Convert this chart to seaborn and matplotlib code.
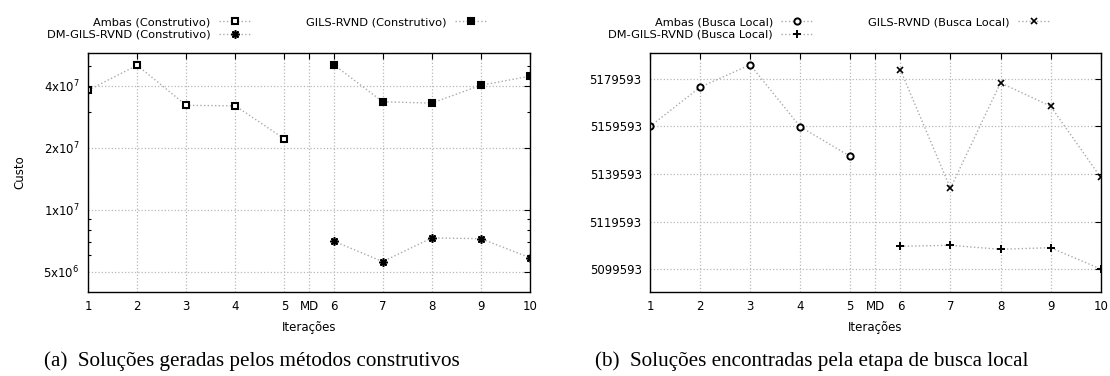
import matplotlib
matplotlib.use('Agg')
import matplotlib.pyplot as plt
import matplotlib.ticker as mticker
import seaborn as sns
import pandas as pd

# iteracoes (MD = mineracao de dados, entre 5 e 6)
it_antes = [1, 2, 3, 4, 5]
it_depois = [6, 7, 8, 9, 10]
xtick_pos = [1, 2, 3, 4, 5, 5.5, 6, 7, 8, 9, 10]
xtick_labels = ['1', '2', '3', '4', '5', 'MD', '6', '7', '8', '9', '10']

# (a) construtivo
ambas_constr = [3.81e7, 5.04e7, 3.22e7, 3.20e7, 2.21e7]
gils_constr = [5.08e7, 3.35e7, 3.30e7, 4.03e7, 4.46e7]
dm_constr = [7.05e6, 5.6e6, 7.3e6, 7.24e6, 5.85e6]
yticks_a = [5e6, 1e7, 2e7, 4e7]
ylabels_a = ['5x10$^{6}$', '1x10$^{7}$', '2x10$^{7}$', '4x10$^{7}$']
yminor_a = [6e6, 7e6, 8e6, 9e6, 3e7, 5e7]

# (b) busca local
ambas_bl = [5159593, 5176056, 5185488, 5159450, 5146961]
gils_bl = [5183383, 5133572, 5177909, 5168056, 5138200]
dm_bl = [5109235, 5109656, 5107972, 5108646, 5099700]
yticks_b = [5099593, 5119593, 5139593, 5159593, 5179593]

sns.set_theme(style='white', rc={'text.color': 'black', 'axes.labelcolor': 'black',
                                 'xtick.color': 'black', 'ytick.color': 'black'})
plt.rcParams['font.family'] = ['DejaVu Sans']

fig = plt.figure(figsize=(11.1, 3.76), dpi=100)
ax1 = fig.add_axes([0.0793, 0.2242, 0.3982, 0.6356])
ax2 = fig.add_axes([0.5856, 0.2242, 0.4060, 0.6356])

line_kw = dict(color='#aaaaaa', linestyle=':', linewidth=1.0, markeredgecolor='black')

def serie(ax, x, y, label, marker, ms, mfc='none', mew=1.4):
    df = pd.DataFrame({'x': x, 'y': y})
    sns.lineplot(data=df, x='x', y='y', ax=ax, label=label, marker=marker,
                 markersize=ms, markerfacecolor=mfc, markeredgewidth=mew, **line_kw)

serie(ax1, it_antes, ambas_constr, 'Ambas (Construtivo)', 's', 5, 'white', 1.5)
serie(ax1, it_depois, dm_constr, 'DM-GILS-RVND (Construtivo)', (8, 2, 0), 6, 'black', 1.2)
serie(ax1, it_depois, gils_constr, 'GILS-RVND (Construtivo)', 's', 5, 'black', 1.5)

serie(ax2, it_antes, ambas_bl, 'Ambas (Busca Local)', 'o', 4.5, 'white', 1.4)
serie(ax2, it_depois, dm_bl, 'DM-GILS-RVND (Busca Local)', '+', 6, 'black', 1.4)
serie(ax2, it_depois, gils_bl, 'GILS-RVND (Busca Local)', 'x', 4.5, 'black', 1.2)

ax1.set_yscale('log')
ax1.set_ylim(4.0e6, 5.8e7)
ax1.yaxis.set_major_locator(mticker.FixedLocator(yticks_a))
ax1.yaxis.set_major_formatter(mticker.FixedFormatter(ylabels_a))
ax1.yaxis.set_minor_locator(mticker.FixedLocator(yminor_a))
ax1.yaxis.set_minor_formatter(mticker.NullFormatter())
ax1.set_ylabel('Custo', fontsize=8.5, labelpad=12)

ax2.set_ylim(5090161, 5190540)
ax2.set_yticks(yticks_b)
ax2.set_yticklabels([str(v) for v in yticks_b])
ax2.set_ylabel('')

for ax in (ax1, ax2):
    ax.set_xlim(1, 10)
    ax.set_xticks(xtick_pos)
    ax.set_xticklabels(xtick_labels)
    ax.set_xlabel('Iterações', fontsize=8.5, labelpad=6)
    ax.grid(True, which='major', color='#b8b8b8', linestyle=':', linewidth=0.9)
    ax.tick_params(which='major', direction='in', length=4, width=0.8, top=True, right=True,
                   labelsize=8.5, colors='black', pad=6)
    ax.tick_params(which='minor', direction='in', length=2.5, width=0.8, left=True, right=True)
    for s in ax.spines.values():
        s.set_color('black')
        s.set_linewidth(1.0)
    ax.legend(loc='lower left', bbox_to_anchor=(-0.108, 1.025), ncol=2, markerfirst=False,
              frameon=False, fontsize=8.2, handlelength=2.8, columnspacing=4.9,
              labelspacing=0.25, handletextpad=0.7, borderaxespad=0.2)

fig.text(252 / 1110, 1 - 361 / 376, '(a)  Soluções geradas pelos métodos construtivos',
         ha='center', va='center', fontsize=15.2, family='Liberation Serif')
fig.text(812 / 1110, 1 - 361 / 376, '(b)  Soluções encontradas pela etapa de busca local',
         ha='center', va='center', fontsize=15.2, family='Liberation Serif')

plt.savefig('out.png', dpi=100)
